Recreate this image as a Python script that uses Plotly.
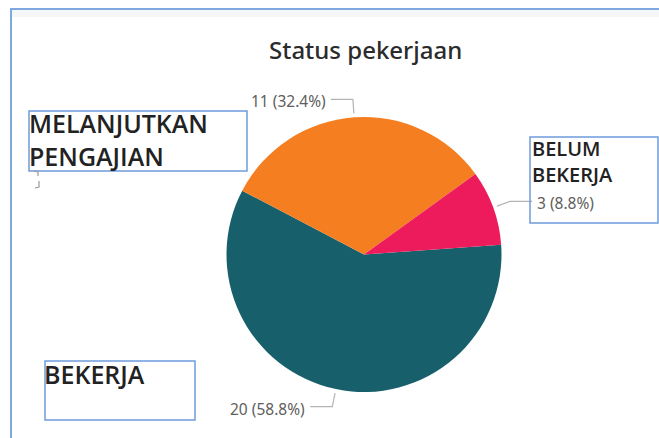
import math
import plotly.graph_objects as go

# Data
categories = ["BEKERJA", "MELANJUTKAN PENGAJIAN", "BELUM BEKERJA"]
counts = [20, 11, 3]
slice_colors = ["#17606B", "#F47E20", "#EE1B5C"]
title_text = "Status pekerjaan"

W, H = 659, 438
CX, CY, R = 364, 254.5, 137.5
ROTATION = 85.9


def px(x):
    return x / W


def py(y):
    return 1 - y / H


fig = go.Figure()
fig.add_trace(go.Pie(
    labels=categories,
    values=counts,
    sort=False,
    direction="clockwise",
    rotation=ROTATION,
    marker=dict(colors=slice_colors, line=dict(width=0)),
    textinfo="none",
    hoverinfo="label+value+percent",
    showlegend=False,
    domain=dict(x=[px(CX - R), px(CX + R)], y=[py(CY + R), py(CY - R)]),
))

shapes = []
annotations = []

# Outer visual frame
shapes.append(dict(type="rect", xref="paper", yref="paper",
                   x0=px(12), x1=px(W + 2), y0=py(17), y1=py(10),
                   fillcolor="#F4F6F8", line=dict(width=0), layer="below"))
shapes.append(dict(type="line", xref="paper", yref="paper",
                   x0=px(10), x1=px(W + 2), y0=py(9), y1=py(9),
                   line=dict(color="#7FA7E0", width=2)))
shapes.append(dict(type="line", xref="paper", yref="paper",
                   x0=px(11), x1=px(11), y0=py(9), y1=py(H + 2),
                   line=dict(color="#7FA7E0", width=2)))

# Title
annotations.append(dict(x=px(365), y=py(50), xref="paper", yref="paper",
                        text=title_text, showarrow=False,
                        xanchor="center", yanchor="middle",
                        font=dict(family="Noto Sans", size=24, color="#2B2B2B",
                                  weight=500)))

# Data labels with leader lines, placed at each slice's mid-angle
total = sum(counts)
start = ROTATION
for v in counts:
    sweep = v / total * 360
    mid = math.radians(start + sweep / 2)
    start += sweep
    s, c = math.sin(mid), -math.cos(mid)
    ax_, ay_ = CX + (R + 4) * s, CY + (R + 4) * c
    bx, by = CX + (R + 18) * s, CY + (R + 18) * c
    side = 1 if s >= 0 else -1
    ex = bx + side * 22
    shapes.append(dict(type="path", xref="paper", yref="paper",
                       path=f"M {px(ax_)},{py(ay_)} L {px(bx)},{py(by)} L {px(ex)},{py(by)}",
                       line=dict(color="#B3B3B3", width=1.2)))
    annotations.append(dict(x=px(ex + side * 3), y=py(by + 2), xref="paper", yref="paper",
                            text=f"{v} ({v / total * 100:.1f}%)", showarrow=False,
                            xanchor="left" if side > 0 else "right", yanchor="middle",
                            font=dict(family="Noto Sans", size=15.5, color="#605E5C")))

# Category text boxes
box_line = dict(color="#6F9CDB", width=1.5)
boxes = [(29, 111, 247, 171), (530, 137, 658, 223), (45, 361, 195, 420)]
for x0, y0, x1, y1 in boxes:
    shapes.append(dict(type="rect", xref="paper", yref="paper",
                       x0=px(x0), x1=px(x1), y0=py(y1), y1=py(y0),
                       line=box_line, fillcolor="rgba(0,0,0,0)"))

box_text = [
    ("MELANJUTKAN<br>PENGAJIAN", 27, 139.5, 25),
    ("BELUM<br>BEKERJA", 530, 161.5, 20),
    ("BEKERJA", 42, 373.5, 25),
]
for txt, x, y, size in box_text:
    annotations.append(dict(x=px(x), y=py(y), xref="paper", yref="paper",
                            text=txt, showarrow=False, align="left",
                            xanchor="left", yanchor="middle",
                            font=dict(family="Open Sans", size=size,
                                      color="#222222", weight=600)))

# small clipped leader fragment under the left box
shapes.append(dict(type="path", xref="paper", yref="paper",
                   path=f"M {px(34)},{py(171)} L {px(38)},{py(172)} L {px(38)},{py(176)}",
                   line=dict(color="#9A9A9A", width=1.2)))
shapes.append(dict(type="path", xref="paper", yref="paper",
                   path=f"M {px(39)},{py(181)} L {px(39)},{py(187)} L {px(35)},{py(188)}",
                   line=dict(color="#9A9A9A", width=1.2)))

fig.update_layout(
    width=W, height=H, autosize=False,
    margin=dict(l=0, r=0, t=0, b=0),
    paper_bgcolor="white", plot_bgcolor="white",
    shapes=shapes, annotations=annotations,
)

fig.write_html("out.html")
